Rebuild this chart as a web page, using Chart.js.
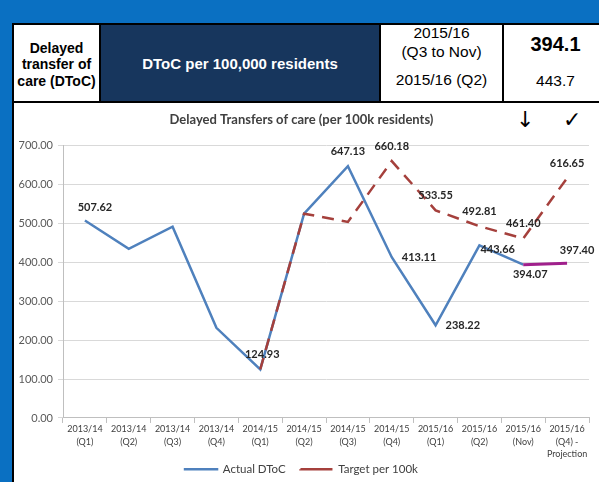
<!DOCTYPE html>
<html>
<head>
<meta charset="utf-8">
<script src="https://cdn.jsdelivr.net/npm/chart.js@4.4.1/dist/chart.umd.min.js"></script>
<style>
    body { margin: 0; width: 599px; height: 482px; overflow: hidden; position: relative; background: #0a70c2; font-family: "Liberation Sans", Arial, sans-serif; }
    #panel { position: absolute; left: 12px; top: 23px; width: 620px; height: 480px; background: #fff; border: 2px solid #000; }
    .cell { position: absolute; top: 23px; height: 80px; border: 2px solid #000; box-sizing: border-box; }
    .txt { position: absolute; left: 0; right: 0; text-align: center; line-height: 1; }
    #c1 { left: 12px; width: 89px; }
    #c2 { left: 99px; width: 282px; background: #17365d; }
    #c3 { left: 379px; width: 125px; }
    #c4 { left: 502px; width: 107px; }
    #chartBox { position: absolute; left: 14px; top: 102px; width: 585px; height: 380px; }
    .mark { position: absolute; font-family: "DejaVu Sans", sans-serif; font-size: 22px; color: #000; line-height: 1; }
</style>
</head>
<body>
<div id="panel"></div>
<div class="cell" id="c1">
    <div class="txt" style="top:16px;font-weight:bold;font-size:14px;">Delayed</div>
    <div class="txt" style="top:32px;font-weight:bold;font-size:14px;">transfer of</div>
    <div class="txt" style="top:49px;font-weight:bold;font-size:14px;">care (DToC)</div>
</div>
<div class="cell" id="c2">
    <div class="txt" style="top:31px;font-weight:bold;font-size:15px;color:#fff;">DToC per 100,000 residents</div>
</div>
<div class="cell" id="c3">
    <div class="txt" style="top:0px;font-size:15.5px;">2015/16</div>
    <div class="txt" style="top:19px;font-size:15.5px;">(Q3 to Nov)</div>
    <div class="txt" style="top:47px;font-size:15.5px;">2015/16 (Q2)</div>
</div>
<div class="cell" id="c4">
    <div class="txt" style="top:9px;font-weight:bold;font-size:20px;">394.1</div>
    <div class="txt" style="top:48px;font-size:15.5px;">443.7</div>
</div>
<div class="mark" style="left:516px;top:109px;">↓</div>
<div class="mark" style="left:563px;top:109px;">✓</div>
<div id="chartBox"><canvas id="grafica"></canvas></div>

<script>
const categorias = [
    ['2013/14', '(Q1)'], ['2013/14', '(Q2)'], ['2013/14', '(Q3)'], ['2013/14', '(Q4)'],
    ['2014/15', '(Q1)'], ['2014/15', '(Q2)'], ['2014/15', '(Q3)'], ['2014/15', '(Q4)'],
    ['2015/16', '(Q1)'], ['2015/16', '(Q2)'], ['2015/16', '(Nov)'], ['2015/16', '(Q4) -', 'Projection']
];

const actual = [507.62, 434.8, 491.5, 231.6, 124.93, 525.0, 647.13, 413.11, 238.22, 443.66, 394.07, null];
const target = [null, null, null, null, 124.93, 525.0, 503.8, 660.18, 533.55, 492.81, 461.40, 616.65];
const proyeccion = [null, null, null, null, null, null, null, null, null, null, 394.07, 397.40];

// where each value label goes (null = no label)
const etiquetasActual = ['aboveRight', null, null, null, 'on', null, 'above', 'right', 'right', 'onRight', 'below', null];
const etiquetasTarget = [null, null, null, null, null, null, null, 'above', 'above', 'above', 'above', 'above'];
const etiquetasProyeccion = [null, null, null, null, null, null, null, null, null, null, null, 'aboveRight'];

const etiquetasPlugin = {
    id: 'etiquetas',
    afterDatasetsDraw(chart) {
        const ctx = chart.ctx;
        ctx.save();
        ctx.font = 'bold 11px Lato';
        ctx.fillStyle = '#262626';
        ctx.textBaseline = 'middle';
        chart.data.datasets.forEach((ds, i) => {
            const meta = chart.getDatasetMeta(i);
            meta.data.forEach((pt, j) => {
                const pos = ds.etiquetas[j];
                if (!pos || ds.data[j] == null) return;
                const txt = ds.data[j].toFixed(2);
                let x = pt.x, y = pt.y;
                ctx.textAlign = 'center';
                if (pos === 'above') y -= 15;
                if (pos === 'below') { y += 10; x += 7; }
                if (pos === 'on') { x += 2; y -= 15; }
                if (pos === 'aboveRight') { x += 10; y -= 13; }
                if (pos === 'right') { ctx.textAlign = 'left'; x += 10; }
                if (pos === 'onRight') { ctx.textAlign = 'left'; x += 1; y += 4; }
                ctx.fillText(txt, x, y);
            });
        });
        ctx.restore();
    }
};

new Chart(document.getElementById('grafica'), {
    type: 'line',
    data: {
        labels: categorias,
        datasets: [
            {
                label: 'Actual DToC',
                data: actual,
                etiquetas: etiquetasActual,
                borderColor: '#4f81bd',
                backgroundColor: '#4f81bd',
                borderWidth: 2.5,
                pointRadius: 0,
                tension: 0,
                order: 2
            },
            {
                label: 'Target per 100k',
                data: target,
                etiquetas: etiquetasTarget,
                borderColor: '#a5403c',
                backgroundColor: '#a5403c',
                borderWidth: 2.5,
                borderDash: [12, 8],
                pointRadius: 0,
                tension: 0,
                order: 1
            },
            {
                label: 'Projection',
                data: proyeccion,
                etiquetas: etiquetasProyeccion,
                borderColor: '#a0208c',
                backgroundColor: '#a0208c',
                borderWidth: 3,
                pointRadius: 0,
                tension: 0,
                order: 0
            }
        ]
    },
    options: {
        responsive: true,
        maintainAspectRatio: false,
        animation: false,
        layout: { padding: { left: 0, right: 10, bottom: -3 } },
        plugins: {
            title: {
                display: true,
                text: 'Delayed Transfers of care (per 100k residents)',
                color: '#404040',
                font: { family: 'Lato', size: 13, weight: 'bold' },
                padding: { top: 10, bottom: 18 }
            },
            legend: {
                position: 'bottom',
                labels: {
                    color: '#404040',
                    font: { family: 'Lato', size: 11.5 },
                    boxWidth: 32,
                    boxHeight: 0.01,
                    padding: 3,
                    filter: item => item.text !== 'Projection',
                    sort: (a, b) => a.datasetIndex - b.datasetIndex,
                    generateLabels: chart => {
                        const items = Chart.defaults.plugins.legend.labels.generateLabels(chart);
                        // extra room after the first entry, as in the original
                        items.forEach(it => { if (it.datasetIndex === 0) it.text += '    '; });
                        return items;
                    }
                }
            },
            tooltip: { enabled: false }
        },
        scales: {
            x: {
                offset: true,
                grid: { offset: true, drawOnChartArea: false, tickLength: 5, color: '#bfbfbf' },
                border: { color: '#bfbfbf' },
                ticks: {
                    color: '#404040',
                    font: { family: 'Lato', size: 9, lineHeight: 1.39 },
                    maxRotation: 0,
                    autoSkip: false,
                    padding: 0
                }
            },
            y: {
                min: 0,
                max: 700,
                afterFit: scale => { scale.width = 49; },
                grid: { color: '#d9d9d9', tickLength: 5 },
                border: { color: '#bfbfbf' },
                ticks: {
                    stepSize: 100,
                    color: '#595959',
                    font: { family: 'Lato', size: 11 },
                    padding: 5,
                    callback: v => v.toFixed(2)
                }
            }
        }
    },
    plugins: [etiquetasPlugin]
});
</script>
</body>
</html>
